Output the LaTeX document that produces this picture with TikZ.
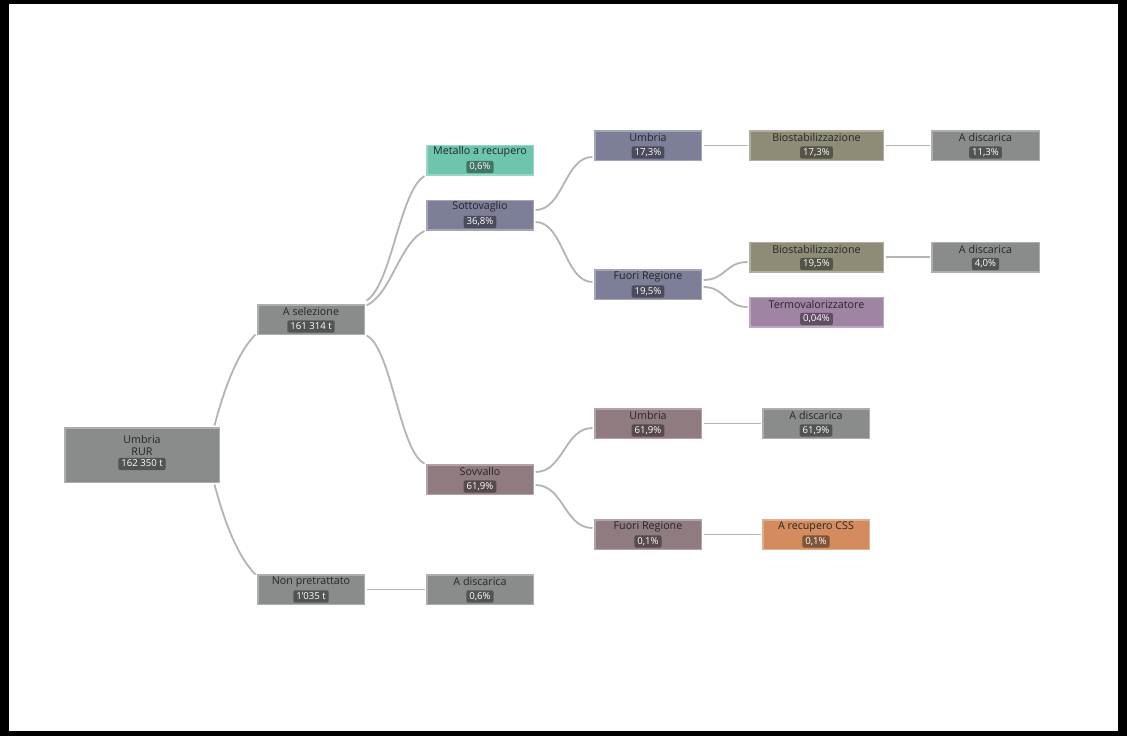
\documentclass[tikz,border=0pt]{standalone}
\usepackage{fontspec}
\setmainfont{Open Sans}
\usetikzlibrary{backgrounds}
\definecolor{cgray}{HTML}{8A8C8C}
\definecolor{cteal}{HTML}{6DC5AD}
\definecolor{cslate}{HTML}{7D7F98}
\definecolor{cmauve}{HTML}{907C80}
\definecolor{colive}{HTML}{8E8C77}
\definecolor{cpurple}{HTML}{A084A4}
\definecolor{corange}{HTML}{D48C5E}
\definecolor{titlec}{HTML}{262626}
\definecolor{linkc}{HTML}{B4B4B4}
\tikzset{
  box/.style={rectangle, draw=white, draw opacity=0.3, line width=3pt, minimum height=31pt, inner sep=0pt},
  ttl/.style={font=\fontsize{10.7}{12}\selectfont, text=titlec, align=center, inner sep=0pt},
  badge/.style={fill=black, fill opacity=0.4, text opacity=1, text=white, rounded corners=2pt,
    inner xsep=3pt, inner ysep=1.5pt, text height=7.3pt, text depth=2pt, font=\fontsize{9.6}{10}\selectfont},
  link/.style={draw=linkc, line width=1.8pt},
}
\newcommand\flowbox[7]{%
  \node[box, fill=#5, minimum width=#4pt] (#1) at (#2,#3) {};
  \node[ttl] (#1-t) at ([yshift=8pt]#1.center) {#6};
  \node[badge] (#1-v) at ([yshift=-7pt]#1.center) {#7};
}
\begin{document}
\begin{tikzpicture}[x=1pt,y=-1pt]
\useasboundingbox (0,0) rectangle (1127,736);
% nodes
\node[box, fill=cgray, minimum width=156pt, minimum height=56pt] (rur) at (142,455) {};
\node[ttl] (rur-t) at ([yshift=9.5pt]rur.center) {Umbria\\RUR};
\node[badge] (rur-v) at ([yshift=-9pt]rur.center) {162 350 t};
\flowbox{asel}{311}{319.5}{108}{cgray}{A selezione}{161 314 t}
\flowbox{nonp}{311}{589.5}{108}{cgray}{Non pretrattato}{1'035 t}
\flowbox{metal}{480}{160}{108}{cteal}{Metallo a recupero}{0,6\%}
\flowbox{sotto}{480}{215}{108}{cslate}{Sottovaglio}{36,8\%}
\flowbox{sovv}{480}{479.5}{108}{cmauve}{Sovvallo}{61,9\%}
\flowbox{disc0}{480}{589.5}{108}{cgray}{A discarica}{0,6\%}
\flowbox{umb1}{648}{145.5}{108}{cslate}{Umbria}{17,3\%}
\flowbox{fr1}{648}{284.5}{108}{cslate}{Fuori Regione}{19,5\%}
\flowbox{umb2}{648}{423.5}{108}{cmauve}{Umbria}{61,9\%}
\flowbox{fr2}{648}{534.5}{108}{cmauve}{Fuori Regione}{0,1\%}
\flowbox{bio1}{816.5}{145.5}{135}{colive}{Biostabilizzazione}{17,3\%}
\flowbox{bio2}{816.5}{257}{135}{colive}{Biostabilizzazione}{19,5\%}
\flowbox{termo}{816.5}{312}{135}{cpurple}{Termovalorizzatore}{0,04\%}
\flowbox{disc2}{816}{423.5}{108}{cgray}{A discarica}{61,9\%}
\flowbox{css}{816}{534.5}{108}{corange}{A recupero CSS}{0,1\%}
\flowbox{disc1}{985.5}{145.5}{109}{cgray}{A discarica}{11,3\%}
\flowbox{disc3}{985.5}{257}{109}{cgray}{A discarica}{4,0\%}
\begin{scope}[on background layer]
\fill[black] (0,0) rectangle (1127,736);
\fill[white] (9,4) rectangle (1118,731);
% curved links
\draw[link] ([xshift=-7pt]rur.north east) .. controls +(8,-30) and +(-20,20) .. ([yshift=2pt]asel.south west);
\draw[link] ([xshift=-7pt]rur.south east) .. controls +(8,30) and +(-20,-20) .. ([yshift=-2pt]nonp.north west);
\draw[link] ([yshift=2pt]asel.north east) .. controls +(25,-15) and +(-25,15) .. ([yshift=1pt]metal.south west);
\draw[link] ([yshift=-3pt]asel.north east) .. controls +(25,-12) and +(-25,12) .. ([yshift=1pt]sotto.south west);
\draw[link] ([yshift=1pt]asel.south east) .. controls +(25,12) and +(-25,-12) .. ([yshift=-1pt]sovv.north west);
\draw[link] ([yshift=5pt]sotto.east) .. controls +(28,0) and +(-28,0) .. ([yshift=-11.5pt]umb1.west);
\draw[link] ([yshift=-7pt]sotto.east) .. controls +(28,0) and +(-28,0) .. ([yshift=2.5pt]fr1.west);
\draw[link] ([yshift=4.5pt]fr1.east) .. controls +(22,0) and +(-22,0) .. ([yshift=-5pt]bio2.west);
\draw[link] ([yshift=-2.5pt]fr1.east) .. controls +(22,0) and +(-22,0) .. ([yshift=5pt]termo.west);
\draw[link] ([yshift=7.5pt]sovv.east) .. controls +(28,0) and +(-28,0) .. ([yshift=-4.5pt]umb2.west);
\draw[link] ([yshift=-5.5pt]sovv.east) .. controls +(28,0) and +(-28,0) .. ([yshift=6.5pt]fr2.west);
% straight links
\draw[link] (nonp.east) -- (disc0.west);
\draw[link] (umb1.east) -- (bio1.west);
\draw[link] (bio1.east) -- (disc1.west);
\draw[link] (bio2.east) -- (disc3.west);
\draw[link] (umb2.east) -- (disc2.west);
\draw[link] (fr2.east) -- (css.west);
\end{scope}
\end{tikzpicture}
\end{document}
